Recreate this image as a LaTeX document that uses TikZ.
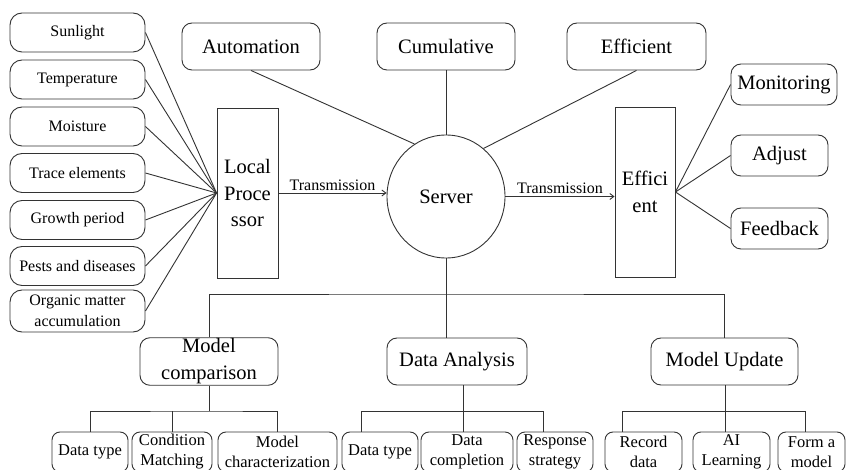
\documentclass[tikz,border=0pt]{standalone}
\usepackage{fontspec}
\setmainfont{Liberation Serif}
\usetikzlibrary{shapes.geometric,arrows.meta}
\definecolor{lc}{HTML}{333333}
\tikzset{
  conn/.style={draw=lc, line width=0.9pt},
  arr/.style={conn, -{Straight Barb[length=4pt,width=6pt]}},
  leftbox/.style={draw=lc, line width=0.9pt, rounded corners=12pt, minimum width=135pt, minimum height=39pt,
    font=\fontsize{16}{21.5}\selectfont, align=center, inner sep=1pt},
  topbox/.style={draw=lc, line width=0.9pt, rounded corners=10pt, minimum height=47pt,
    font=\fontsize{20.5}{27}\selectfont, align=center, inner sep=1pt},
  rectbox/.style={draw=lc, line width=0.9pt, minimum width=61pt, minimum height=170pt,
    font=\fontsize{20.5}{26.5}\selectfont, align=center, inner sep=1pt},
  leaf/.style={draw=lc, line width=0.9pt, rounded corners=8pt, minimum height=40pt,
    font=\fontsize{16.5}{20}\selectfont, align=center, inner sep=1pt},
  lbl/.style={font=\fontsize{16}{18}\selectfont, inner sep=2pt}
}
\begin{document}
\begin{tikzpicture}[x=1pt,y=-1pt]
\path[use as bounding box, fill=white] (0,0) rectangle (846,470);
\clip (0,0) rectangle (846,470);
% left boxes
\node[leftbox] (sun) at (77.5,32.5) {Sunlight};
\node[leftbox] (temp) at (77.5,79.5) {Temperature};
\node[leftbox] (moist) at (77.5,126.5) {Moisture};
\node[leftbox] (trace) at (77.5,173) {Trace elements};
\node[leftbox] (growth) at (77.5,220) {Growth period};
\node[leftbox] (pests) at (77.5,266) {Pests and diseases};
\node[leftbox, minimum height=42pt] (organic) at (77.5,311) {Organic matter\\accumulation};
% processors
\node[rectbox] (lp) at (247.5,193) {Local\\Proce\\ssor};
\node[rectbox, minimum width=60pt] (effr) at (645,192) {Effici\\ent};
% top boxes
\node[topbox, minimum width=138pt] (auto) at (251,46.5) {Automation};
\node[topbox, minimum width=138pt] (cum) at (446,46.5) {Cumulative};
\node[topbox, minimum width=139pt] (efft) at (636.5,46.5) {Efficient};
% server
\node[ellipse, draw=lc, line width=0.9pt, minimum width=118pt, minimum height=123pt, inner sep=0pt,
  font=\fontsize{20.5}{24}\selectfont] (server) at (446,196.5) {Server};
% right boxes
\node[topbox, minimum width=106pt, minimum height=41pt] (mon) at (784,84.5) {Monitoring};
\node[topbox, minimum width=97pt, minimum height=41pt] (adj) at (779.5,155.5) {Adjust};
\node[topbox, minimum width=97pt, minimum height=41pt] (feed) at (779.5,228.5) {Feedback};
% middle level
\node[topbox, minimum width=138pt] (mc) at (209,361.5) {Model\\comparison};
\node[topbox, minimum width=140pt] (da) at (457,361.5) {Data Analysis};
\node[topbox, minimum width=147pt] (mu) at (724.5,361.5) {Model Update};
% leaves
\node[leaf, minimum width=76pt] (l1) at (90,452) {Data type};
\node[leaf, minimum width=80pt] (l2) at (172,452) {Condition\\Matching};
\node[leaf, minimum width=119pt] (l3) at (277.5,452) {Model\\characterization};
\node[leaf, minimum width=76pt] (l4) at (380,452) {Data type};
\node[leaf, minimum width=92pt] (l5) at (467,452) {Data\\completion};
\node[leaf, minimum width=76pt] (l6) at (555,452) {Response\\strategy};
\node[leaf, minimum width=77pt] (l7) at (643.5,452) {Record\\data};
\node[leaf, minimum width=77pt] (l8) at (731.5,452) {AI\\Learning};
\node[leaf, minimum width=67pt] (l9) at (811.5,452) {Form a\\model};
% left connectors
\foreach \n in {sun,temp,moist,trace,growth,pests,organic}
  \draw[conn] (\n.east) -- (lp.west);
% top connectors
\draw[conn] (auto.south) -- (server.121);
\draw[conn] (cum.south) -- (server.north);
\draw[conn] (efft.south) -- (server.52);
% transmissions
\draw[arr] (lp.east) -- node[lbl, above] {Transmission} (lp.east -| server.west);
\draw[arr] (server.east) -- node[lbl, above] {Transmission} (server.east -| effr.west);
% right connectors
\foreach \n in {mon,adj,feed}
  \draw[conn] (effr.east) -- (\n.west);
% bus
\coordinate (bus) at (446,294);
\draw[conn] (server.south) -- (bus);
\draw[conn] (mc.north) |- (bus) -| (mu.north);
\draw[conn] (bus) -- (bus |- da.north);
% brackets
\coordinate (b1) at (209,411);
\draw[conn] (mc.south) -- (b1);
\draw[conn] (l1.north) |- (b1) -| (l3.north);
\draw[conn] (b1 -| l2.north) -- (l2.north);
\coordinate (dab) at (463,411);
\coordinate (v4) at (361,411);
\coordinate (v6) at (543,411);
\draw[conn] (da.south -| dab) -- (dab);
\draw[conn] (v4 |- l4.north) -- (v4) -- (v6) -- (v6 |- l6.north);
\draw[conn] (dab) -- (dab |- l5.north);
\coordinate (mub) at (725,411);
\coordinate (v7) at (622,411);
\coordinate (v9) at (805,411);
\draw[conn] (mu.south -| mub) -- (mub);
\draw[conn] (v7 |- l7.north) -- (v7) -- (v9) -- (v9 |- l9.north);
\draw[conn] (mub) -- (mub |- l8.north);
\end{tikzpicture}
\end{document}
